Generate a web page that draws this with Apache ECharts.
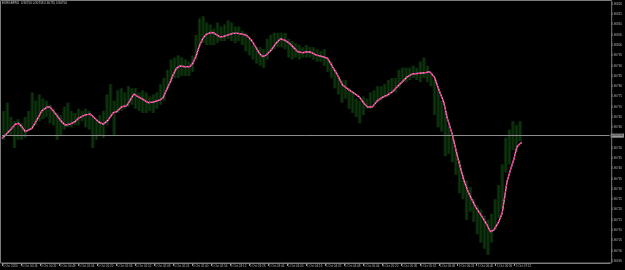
<!DOCTYPE html>
<html><head><meta charset="utf-8">
<script src="https://cdn.jsdelivr.net/npm/echarts@6/dist/echarts.min.js"></script>
<style>html,body{margin:0;background:#000}#c{width:625px;height:270px}</style>
</head><body><div id="c"></div>
<script>
// ---- data (prices in points, 1 point = 0.00001) ----
const symbolTitle = 'EURGBP,M1  0.90756 0.90758 0.90755 0.90756';
const timeLabels = ["5 Oct 2020","5 Oct 00:16","5 Oct 00:32","5 Oct 00:48","5 Oct 01:04","5 Oct 01:20","5 Oct 01:36","5 Oct 01:52","5 Oct 02:08","5 Oct 02:24","5 Oct 02:40","5 Oct 02:56","5 Oct 03:12","5 Oct 03:28","5 Oct 03:44","5 Oct 04:00","5 Oct 04:16","5 Oct 04:32","5 Oct 04:48","5 Oct 05:04","5 Oct 05:20","5 Oct 05:36","5 Oct 05:52","5 Oct 06:08","5 Oct 06:24","5 Oct 06:40","5 Oct 06:56","5 Oct 07:12"];
const priceLabels = ["0.90820","0.90815","0.90810","0.90805","0.90800","0.90795","0.90790","0.90785","0.90780","0.90775","0.90770","0.90765","0.90760","0.90755","0.90750","0.90745","0.90740","0.90735","0.90730","0.90725","0.90720","0.90715","0.90710","0.90705","0.90700","0.90695"];
const lastPrice = 90756;
const lastPriceLabel = "0.90756";

const barHigh = [90768,90772,90765,90763,90764,90762,90765,90768,90777,90773,
90776,90774,90773,90771,90769,90767,90766,90770,90772,90768,
90767,90769,90768,90769,90768,90765,90764,90766,90768,90776,
90781,90773,90778,90779,90777,90780,90779,90779,90777,90778,
90777,90775,90776,90777,90781,90784,90788,90793,90794,90795,
90794,90793,90792,90795,90805,90813,90814,90811,90810,90808,
90811,90809,90810,90812,90811,90809,90809,90807,90806,90803,
90800,90799,90799,90798,90803,90805,90806,90806,90806,90806,
90803,90802,90801,90800,90799,90800,90799,90799,90798,90797,
90798,90794,90792,90788,90785,90783,90783,90779,90777,90774,
90773,90775,90774,90777,90778,90780,90780,90781,90783,90784,
90784,90788,90789,90789,90789,90790,90789,90792,90794,90790,
90786,90783,90779,90773,90768,90761,90755,90749,90744,90737,
90734,90731,90725,90722,90720,90717,90715,90718,90725,90732,
90742,90755,90759,90763,90761,90763];
const barLow = [90754,90757,90756,90750,90754,90754,90755,90758,90760,90761,
90763,90764,90765,90762,90761,90754,90756,90759,90760,90760,
90761,90761,90763,90760,90759,90750,90754,90756,90755,90761,
90765,90756,90767,90768,90769,90770,90771,90769,90768,90767,
90767,90768,90767,90769,90771,90773,90778,90782,90784,90784,
90785,90785,90785,90787,90793,90799,90801,90800,90800,90800,
90801,90802,90802,90803,90802,90801,90802,90800,90797,90795,
90793,90791,90790,90789,90793,90797,90798,90799,90799,90798,
90794,90793,90794,90793,90794,90794,90794,90793,90792,90792,
90790,90787,90784,90779,90776,90772,90774,90769,90767,90765,
90762,90766,90769,90769,90772,90772,90773,90775,90775,90777,
90777,90779,90782,90782,90783,90784,90783,90782,90784,90782,
90780,90766,90760,90758,90746,90747,90743,90737,90728,90725,
90715,90719,90714,90708,90704,90701,90698,90704,90710,90716,
90720,90738,90742,90749,90748,90753];

const maMinutes = [0,1.3,7.0,11.2,13.9,16.8,19.6,22.3,25.2,29.4,
33.6,37.8,40.6,44.8,49.0,53.2,57.4,61.6,64.3,70.0,
74.2,76.9,81.1,85.3,89.5,93.7,96.6,100.8,105.0,107.8,
111.1,114.7,118.9,123.1,127.3,133.0,135.7,138.6,141.4,144.1,
147.0,149.8,154.0,158.2,160.9,163.8,166.6,169.3,172.2,176.4,
179.2,183.4,186.1,190.3,194.5,198.7,202.9,206.3,210.0,213.6,
216.9,219.7,222.6,226.8,231.0,234.6,238.0,242.2,246.3,249.1,
253.3,257.5,260.4,264.6,270.1,274.3,278.5,282.7,286.9,292.5,
296.7,300.9,305.1,307.9,312.1,316.3,320.5,324.7,329.0,333.1,
337.3,341.5,345.8,351.3,357.0,360.3,364.2,368.2,372.3,375.1,
379.3,384.1,389.1,393.3,399.0,404.5,408.7,411.6,414.4,418.6,
421.4,423.6,425.5,428.4,431.1,433.9,436.8,438.1];
const maValues = [90754.6,90755.2,90758.7,90761.6,90762.0,90760.3,90757.9,90758.7,90759.5,90763.6,
90768.1,90769.8,90769.8,90766.8,90763.6,90761.1,90761.6,90762.8,90764.4,90766.0,
90766.5,90765.2,90762.8,90761.5,90763.6,90767.1,90767.6,90770.0,90770.5,90773.0,
90776.2,90774.9,90773.6,90772.0,90772.3,90773.3,90774.4,90778.2,90781.6,90785.5,
90788.7,90789.8,90789.5,90789.5,90791.2,90795.2,90800.1,90803.3,90805.3,90806.2,
90805.7,90804.1,90804.1,90804.9,90805.7,90805.7,90805.3,90804.6,90802.5,90799.2,
90796.0,90794.4,90795.2,90797.6,90800.9,90803.0,90802.5,90800.9,90798.5,90796.8,
90796.3,90796.8,90796.5,90795.2,90794.4,90793.6,90789.5,90785.5,90780.6,90778.2,
90776.6,90774.9,90771.7,90770.0,90770.0,90773.0,90774.6,90775.7,90777.3,90779.8,
90782.2,90784.6,90786.0,90786.3,90786.6,90787.1,90784.6,90778.2,90772.1,90764.6,
90756.8,90745.1,90734.4,90727.9,90721.4,90716.5,90712.5,90709.2,90710.1,90714.1,
90718.2,90726.3,90733.6,90739.3,90744.1,90750.6,90752.2,90752.5];

// ---- chart ----
const bars = barHigh.map((h, i) => [i * 3 + 1.5, barLow[i], h]);
const ma = maMinutes.map((m, i) => [m, maValues[i]]);
const timeTickValues = timeLabels.map((_, i) => i * 16);
const FONT = 'Liberation Sans';

const chart = echarts.init(document.getElementById('c'));
chart.setOption({
  backgroundColor: '#000',
  animation: false,
  grid: { left: 1.7, right: 13.3, top: 4, bottom: 9 },
  xAxis: {
    type: 'value', min: 0, max: 512, interval: 16, offset: 2,
    axisLine: { show: true, lineStyle: { color: '#808080', width: 1 } },
    axisTick: { show: true, length: 3, customValues: timeTickValues, lineStyle: { color: '#9a9a9a', width: 1 } },
    axisLabel: {
      show: true, fontSize: 3, color: '#b4b4b4', fontFamily: FONT, align: 'left', margin: 1.2, padding: [0, 0, 0, 1],
      customValues: timeTickValues,
      formatter: v => { const i = Math.round(v / 16); return (Math.abs(v - i * 16) < 1e-6 && i < timeLabels.length) ? timeLabels[i] : ''; }
    },
    splitLine: { show: false }
  },
  yAxis: {
    type: 'value', position: 'right', min: 90695, max: 90820, interval: 5,
    axisLine: { show: false }, axisTick: { show: false }, splitLine: { show: false },
    axisLabel: {
      fontSize: 3, color: '#b4b4b4', fontFamily: FONT, margin: 1.5,
      formatter: v => { const i = Math.round((90820 - v) / 5); if (Math.abs(v - lastPrice) < 3) return ''; return priceLabels[i] || ''; }
    }
  },
  series: [
    {
      type: 'custom', data: bars, encode: { x: 0, y: [1, 2] }, clip: true, z: 1,
      renderItem: (params, api) => {
        const x = api.value(0), lo = api.value(1), hi = api.value(2);
        const p1 = api.coord([x, hi]), p2 = api.coord([x, lo]);
        const w = api.size([3, 0])[0];
        const h = Math.max(1, p2[1] - p1[1]);
        return { type: 'group', children: [
          { type: 'rect', shape: { x: p1[0] - w / 2, y: p1[1], width: w, height: h }, style: { fill: '#082408' } },
          { type: 'rect', shape: { x: p1[0] - 0.5, y: p1[1], width: 1, height: h }, style: { fill: '#113a11' } }
        ] };
      }
    },
    {
      type: 'line', data: ma, showSymbol: false, z: 3,
      lineStyle: { color: '#bfe9da', width: 1.2 },
      markLine: {
        silent: true, symbol: 'none', animation: false,
        lineStyle: { color: '#8c8c8c', width: 1, type: 'solid' },
        label: { position: 'end', distance: 1, formatter: lastPriceLabel, fontSize: 3, fontFamily: FONT, color: '#000', backgroundColor: '#9a9a9a', padding: [0.6, 1.2] },
        data: [{ yAxis: lastPrice }]
      }
    },
    {
      type: 'line', data: ma, showSymbol: false, z: 4,
      lineStyle: { color: '#ff1a8c', width: 1.4, type: [2.5, 0.8] }
    }
  ],
  graphic: [
    { type: 'rect', silent: true, z: 100, shape: { x: 0.5, y: 0.5, width: 611.2, height: 262.5 }, style: { fill: null, stroke: '#7a7a7a', lineWidth: 1 } },
    { type: 'text', silent: true, z: 100, x: 2, y: 1.5, style: { text: symbolTitle, fill: '#c8c8c8', fontSize: 3, fontFamily: FONT } }
  ]
});
</script>
</body></html>
